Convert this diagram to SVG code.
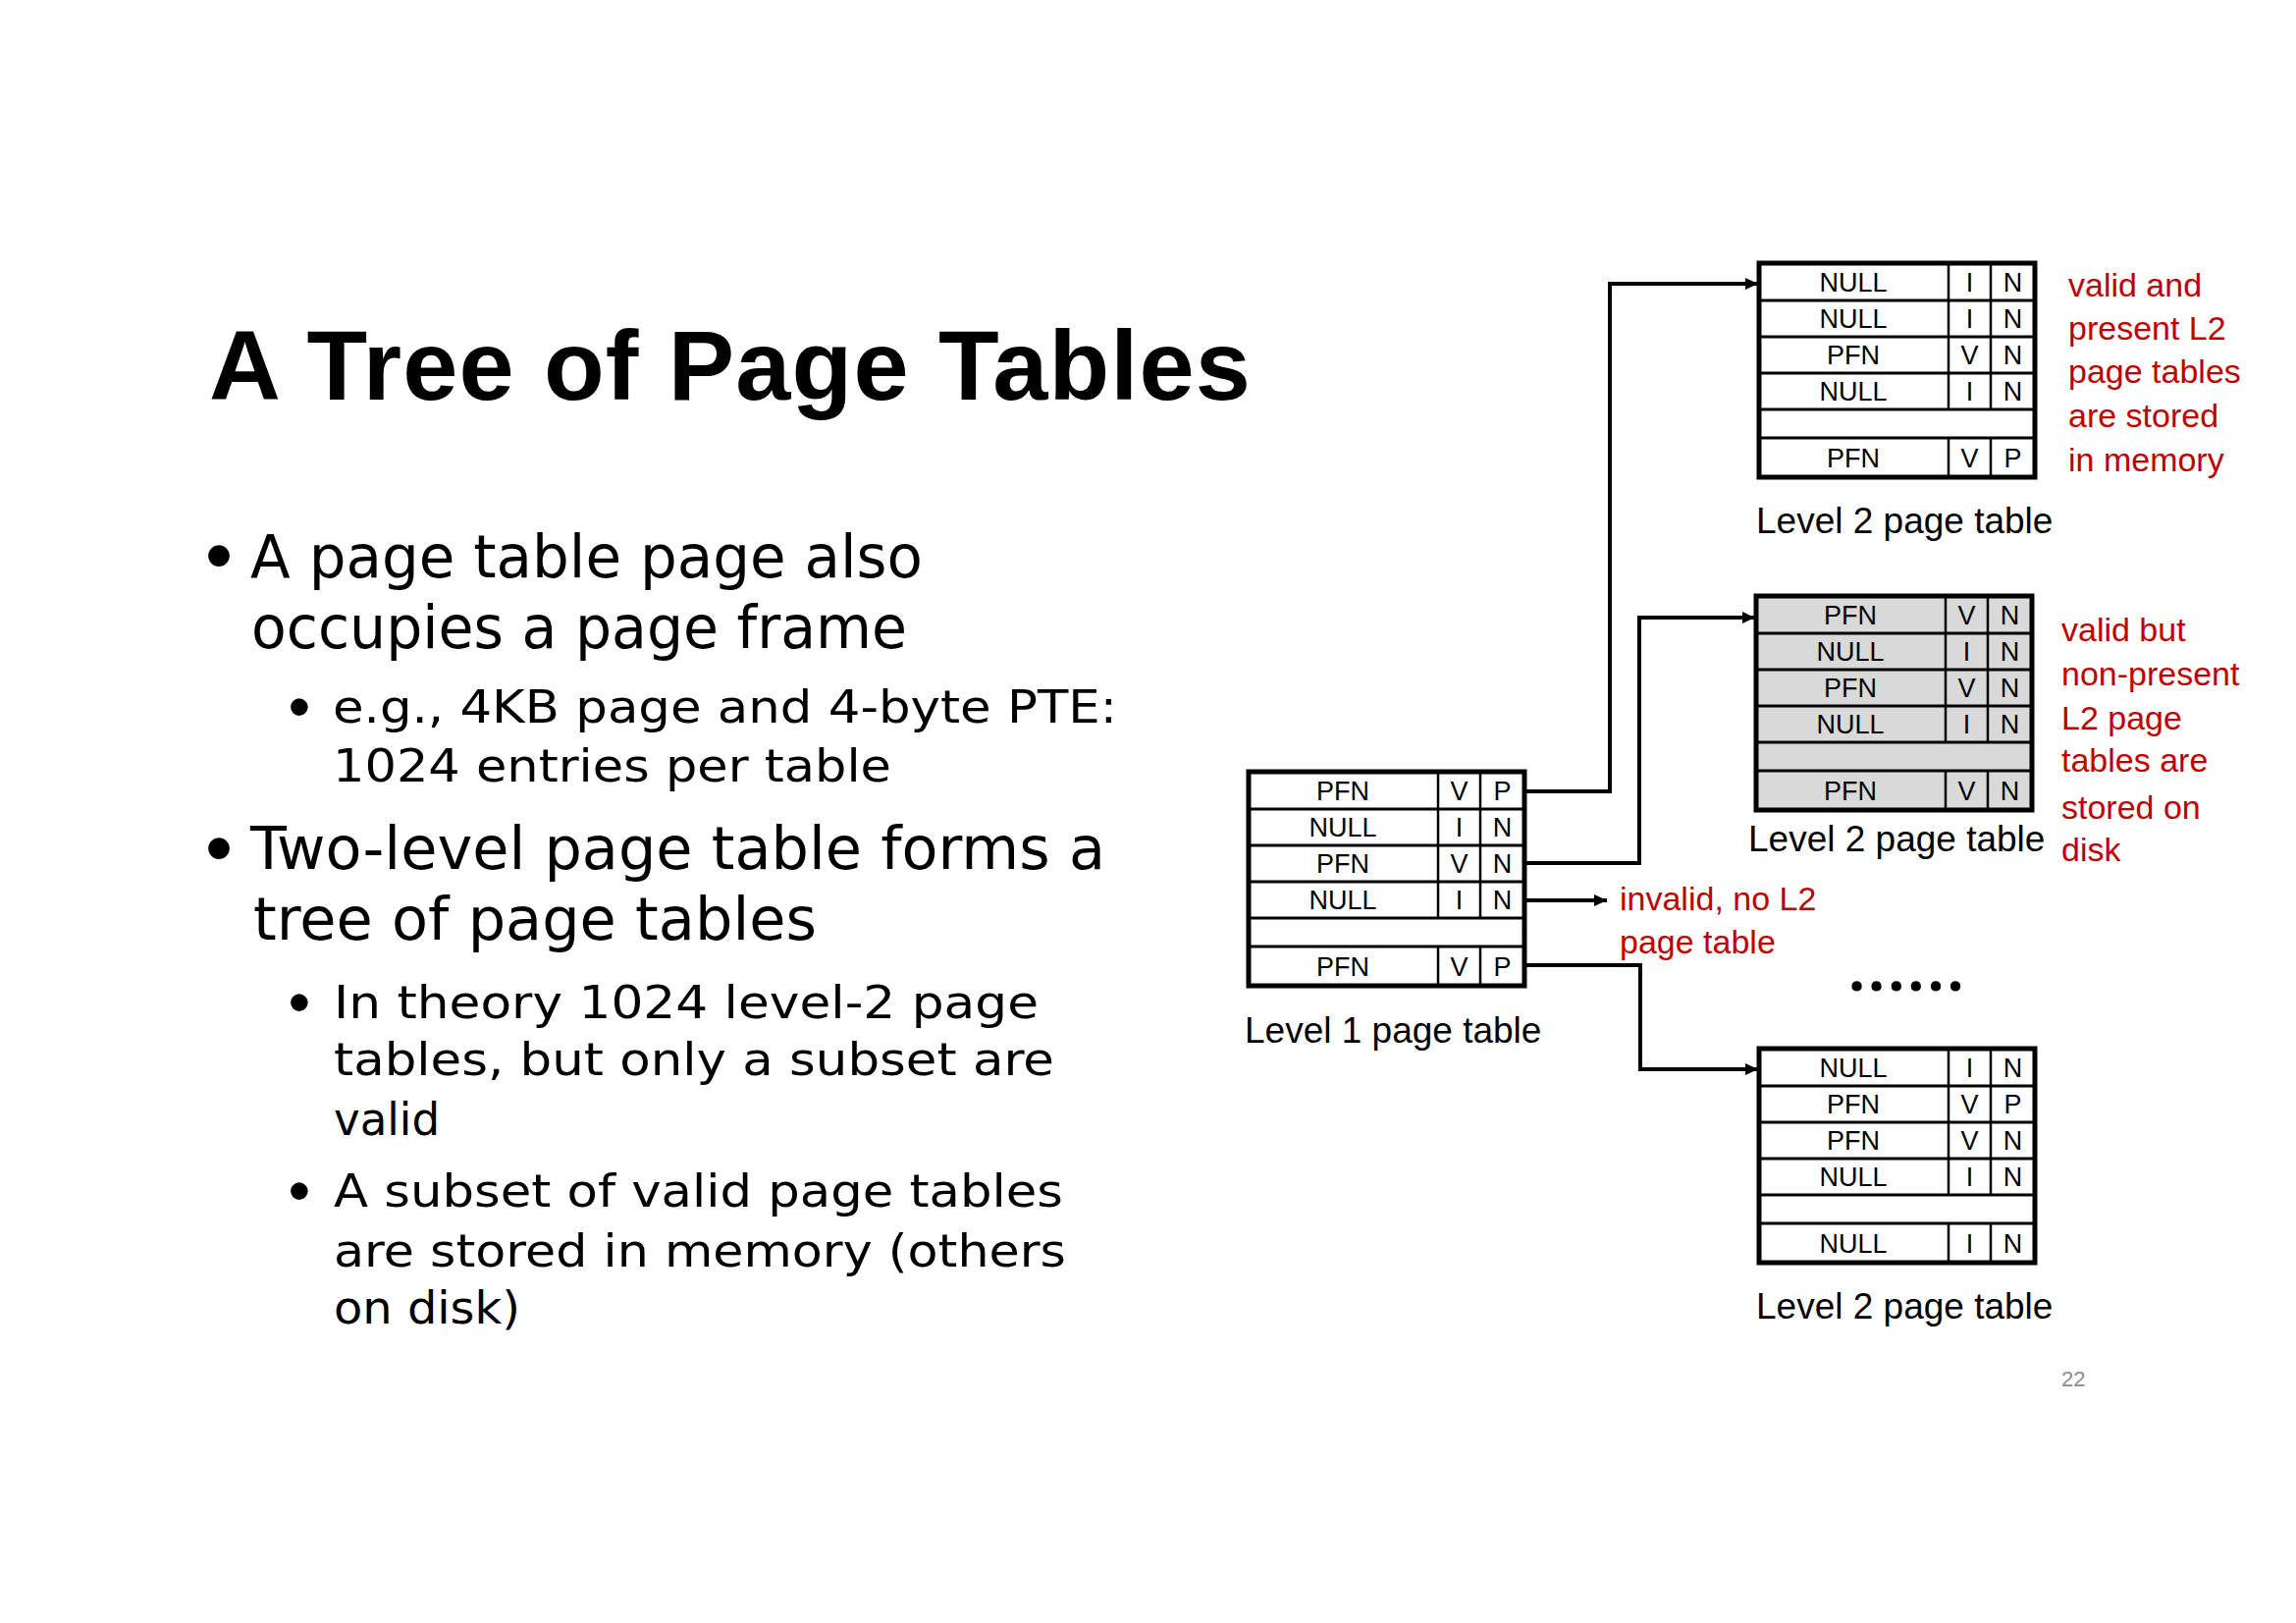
<svg xmlns="http://www.w3.org/2000/svg" xmlns:xlink="http://www.w3.org/1999/xlink" width="2339" height="1653" viewBox="0 0 2339 1653">
  <style>
    .title { font-family: "Comic Sans MS", "Liberation Sans", sans-serif; font-weight: bold; font-size: 101px; fill: #000; }
    .body { font-family: "Comic Sans MS", "DejaVu Sans", sans-serif; font-size: 60px; fill: #000; }
    .sub { font-family: "Comic Sans MS", "DejaVu Sans", sans-serif; font-size: 46px; fill: #000; }
    .bul { font-family: "Liberation Sans", sans-serif; fill: #000; text-anchor: middle; }
    .cell { font-family: "Liberation Sans", sans-serif; font-size: 27px; fill: #000; text-anchor: middle; }
    .cap { font-family: "Liberation Sans", sans-serif; font-size: 37px; fill: #000; }
    .note { font-family: "Liberation Sans", sans-serif; font-size: 34px; fill: #c00000; }
    .pg { font-family: "Liberation Sans", sans-serif; font-size: 22px; fill: #8c8c8c; }
    .outer { fill: none; stroke: #000; stroke-width: 5; }
    .rowline { stroke: #000; stroke-width: 3; }
    .colline { stroke: #000; stroke-width: 2.5; }
    .wire { fill: none; stroke: #000; stroke-width: 4; }
  </style>
  <defs>
    <marker id="head" markerUnits="userSpaceOnUse" markerWidth="14" markerHeight="12" refX="13" refY="6" orient="auto">
      <path d="M0,0 L13,6 L0,12 z" fill="#000"/>
    </marker>
    <!-- page table grid: four entries, an elided gap, one last entry -->
    <g id="grid">
      <line class="rowline" x1="0" y1="38" x2="281" y2="38"/>
      <line class="rowline" x1="0" y1="75" x2="281" y2="75"/>
      <line class="rowline" x1="0" y1="112" x2="281" y2="112"/>
      <line class="rowline" x1="0" y1="149" x2="281" y2="149"/>
      <line class="rowline" x1="0" y1="178" x2="281" y2="178"/>
      <line class="colline" x1="193" y1="0" x2="193" y2="149"/>
      <line class="colline" x1="236" y1="0" x2="236" y2="149"/>
      <line class="colline" x1="193" y1="178" x2="193" y2="218"/>
      <line class="colline" x1="236" y1="178" x2="236" y2="218"/>
      <rect class="outer" x="0" y="0" width="281" height="218"/>
    </g>
  </defs>

  <rect x="0" y="0" width="2339" height="1653" fill="#fff"/>

  <!-- slide text -->
  <g id="text">
    <text class="title" x="213" y="407" textLength="1061">A Tree of Page Tables</text>

    <text class="bul" x="223" y="593" font-size="80">•</text>
    <text class="body" x="255" y="588" textLength="685" lengthAdjust="spacingAndGlyphs">A page table page also</text>
    <text class="body" x="256" y="660" textLength="668" lengthAdjust="spacingAndGlyphs">occupies a page frame</text>

    <text class="bul" x="305" y="742" font-size="65">•</text>
    <text class="sub" x="339" y="736" textLength="799" lengthAdjust="spacingAndGlyphs">e.g., 4KB page and 4-byte PTE:</text>
    <text class="sub" x="339" y="796" textLength="569" lengthAdjust="spacingAndGlyphs">1024 entries per table</text>

    <text class="bul" x="223" y="891" font-size="80">•</text>
    <text class="body" x="255" y="885" textLength="871" lengthAdjust="spacingAndGlyphs">Two-level page table forms a</text>
    <text class="body" x="258" y="957" textLength="574" lengthAdjust="spacingAndGlyphs">tree of page tables</text>

    <text class="bul" x="305" y="1043" font-size="65">•</text>
    <text class="sub" x="340" y="1037" textLength="718" lengthAdjust="spacingAndGlyphs">In theory 1024 level-2 page</text>
    <text class="sub" x="340" y="1095" textLength="734" lengthAdjust="spacingAndGlyphs">tables, but only a subset are</text>
    <text class="sub" x="340" y="1156" textLength="108" lengthAdjust="spacingAndGlyphs">valid</text>

    <text class="bul" x="305" y="1235" font-size="65">•</text>
    <text class="sub" x="340" y="1229" textLength="743" lengthAdjust="spacingAndGlyphs">A subset of valid page tables</text>
    <text class="sub" x="340" y="1290" textLength="746" lengthAdjust="spacingAndGlyphs">are stored in memory (others</text>
    <text class="sub" x="340" y="1348" textLength="190" lengthAdjust="spacingAndGlyphs">on disk)</text>

    <text class="pg" x="2100" y="1412">22</text>
  </g>

  <!-- level 1 page table -->
  <g id="l1" transform="translate(1272,786)">
    <rect x="0" y="0" width="281" height="218" fill="#fff"/>
    <use xlink:href="#grid"/>
    <text class="cell" x="96" y="29">PFN</text><text class="cell" x="214.5" y="29">V</text><text class="cell" x="258.5" y="29">P</text>
    <text class="cell" x="96" y="66">NULL</text><text class="cell" x="214.5" y="66">I</text><text class="cell" x="258.5" y="66">N</text>
    <text class="cell" x="96" y="103">PFN</text><text class="cell" x="214.5" y="103">V</text><text class="cell" x="258.5" y="103">N</text>
    <text class="cell" x="96" y="140">NULL</text><text class="cell" x="214.5" y="140">I</text><text class="cell" x="258.5" y="140">N</text>
    <text class="cell" x="96" y="208">PFN</text><text class="cell" x="214.5" y="208">V</text><text class="cell" x="258.5" y="208">P</text>
    <text class="cap" x="-4" y="276">Level 1 page table</text>
  </g>

  <!-- level 2 page table, present in memory -->
  <g id="l2-present" transform="translate(1792,268)">
    <rect x="0" y="0" width="281" height="218" fill="#fff"/>
    <use xlink:href="#grid"/>
    <text class="cell" x="96" y="29">NULL</text><text class="cell" x="214.5" y="29">I</text><text class="cell" x="258.5" y="29">N</text>
    <text class="cell" x="96" y="66">NULL</text><text class="cell" x="214.5" y="66">I</text><text class="cell" x="258.5" y="66">N</text>
    <text class="cell" x="96" y="103">PFN</text><text class="cell" x="214.5" y="103">V</text><text class="cell" x="258.5" y="103">N</text>
    <text class="cell" x="96" y="140">NULL</text><text class="cell" x="214.5" y="140">I</text><text class="cell" x="258.5" y="140">N</text>
    <text class="cell" x="96" y="208">PFN</text><text class="cell" x="214.5" y="208">V</text><text class="cell" x="258.5" y="208">P</text>
    <text class="cap" x="-3" y="275">Level 2 page table</text>
    <text class="note" x="315" y="34">valid and</text>
    <text class="note" x="315" y="78">present L2</text>
    <text class="note" x="315" y="122">page tables</text>
    <text class="note" x="315" y="167">are stored</text>
    <text class="note" x="315" y="212">in memory</text>
  </g>

  <!-- level 2 page table, swapped out to disk -->
  <g id="l2-disk" transform="translate(1789,607)">
    <rect x="0" y="0" width="281" height="218" fill="#d9d9d9"/>
    <use xlink:href="#grid"/>
    <text class="cell" x="96" y="29">PFN</text><text class="cell" x="214.5" y="29">V</text><text class="cell" x="258.5" y="29">N</text>
    <text class="cell" x="96" y="66">NULL</text><text class="cell" x="214.5" y="66">I</text><text class="cell" x="258.5" y="66">N</text>
    <text class="cell" x="96" y="103">PFN</text><text class="cell" x="214.5" y="103">V</text><text class="cell" x="258.5" y="103">N</text>
    <text class="cell" x="96" y="140">NULL</text><text class="cell" x="214.5" y="140">I</text><text class="cell" x="258.5" y="140">N</text>
    <text class="cell" x="96" y="208">PFN</text><text class="cell" x="214.5" y="208">V</text><text class="cell" x="258.5" y="208">N</text>
    <text class="cap" x="-8" y="260">Level 2 page table</text>
    <text class="note" x="311" y="46">valid but</text>
    <text class="note" x="311" y="91">non-present</text>
    <text class="note" x="311" y="136">L2 page</text>
    <text class="note" x="311" y="179">tables are</text>
    <text class="note" x="311" y="227">stored on</text>
    <text class="note" x="311" y="270">disk</text>
  </g>

  <!-- another level 2 page table, further down the level 1 index -->
  <g id="l2-other" transform="translate(1792,1068)">
    <rect x="0" y="0" width="281" height="218" fill="#fff"/>
    <use xlink:href="#grid"/>
    <text class="cell" x="96" y="29">NULL</text><text class="cell" x="214.5" y="29">I</text><text class="cell" x="258.5" y="29">N</text>
    <text class="cell" x="96" y="66">PFN</text><text class="cell" x="214.5" y="66">V</text><text class="cell" x="258.5" y="66">P</text>
    <text class="cell" x="96" y="103">PFN</text><text class="cell" x="214.5" y="103">V</text><text class="cell" x="258.5" y="103">N</text>
    <text class="cell" x="96" y="140">NULL</text><text class="cell" x="214.5" y="140">I</text><text class="cell" x="258.5" y="140">N</text>
    <text class="cell" x="96" y="208">NULL</text><text class="cell" x="214.5" y="208">I</text><text class="cell" x="258.5" y="208">N</text>
    <text class="cap" x="-3" y="275">Level 2 page table</text>
  </g>

  <!-- label for the invalid level 1 entry -->
  <g id="invalid">
    <text class="note" x="1650" y="927">invalid, no L2</text>
    <text class="note" x="1650" y="971">page table</text>
  </g>

  <g id="ellipsis">
    <text x="1883" y="1009" font-family="Open Sans, sans-serif" font-weight="bold" font-size="60" letter-spacing="3" fill="#000">......</text>
  </g>

  <!-- level 1 entries pointing at level 2 tables -->
  <g id="connectors">
    <path class="wire" d="M1553,806 H1640 V289 H1791" marker-end="url(#head)"/>
    <path class="wire" d="M1553,879 H1670 V629 H1788" marker-end="url(#head)"/>
    <path class="wire" d="M1553,917 H1637" marker-end="url(#head)"/>
    <path class="wire" d="M1553,983 H1671 V1089 H1791" marker-end="url(#head)"/>
  </g>
</svg>
